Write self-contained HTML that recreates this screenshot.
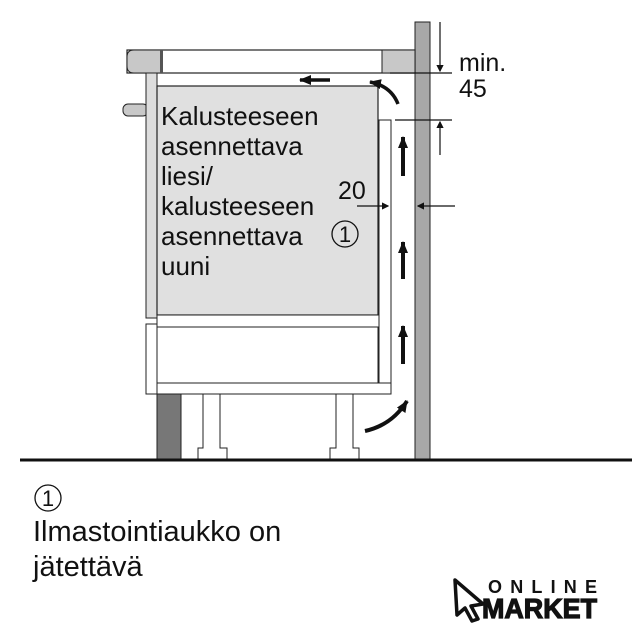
<!DOCTYPE html>
<html><head><meta charset="utf-8"><style>
html,body{margin:0;padding:0;background:#fff;}
svg{display:block}
text{font-family:"Liberation Sans",Arial,sans-serif;fill:#111}
</style></head><body>
<svg width="642" height="640" viewBox="0 0 642 640" xmlns="http://www.w3.org/2000/svg">
<defs>
<marker id="ah" markerWidth="6" markerHeight="6" refX="5" refY="3" orient="auto" markerUnits="strokeWidth"><path d="M0,0 L6,3 L0,6 z" fill="#111"/></marker>
<marker id="th" markerWidth="12" markerHeight="10" refX="11" refY="5" orient="auto" markerUnits="userSpaceOnUse"><path d="M0,0 L12,5 L0,10 z" fill="#111"/></marker>
</defs>
<rect x="415" y="22" width="15" height="438" fill="#a8a8a8" stroke="#222" stroke-width="1"/>
<rect x="127" y="50" width="288" height="23" fill="#fff" stroke="#222" stroke-width="1.2"/>
<path d="M162,50 H134 Q127,50 127,57 V66 Q127,73 134,73 H162 Z" fill="#c8c8c8" stroke="#222" stroke-width="1"/>
<rect x="160" y="50" width="3" height="23" fill="#555"/>
<rect x="382" y="50" width="33" height="23" fill="#c8c8c8" stroke="#222" stroke-width="1"/>
<rect x="123" y="104" width="25" height="12" rx="5" fill="#c8c8c8" stroke="#222"/>
<rect x="146" y="73" width="11" height="245" fill="#ddd" stroke="#222"/>
<rect x="146" y="324" width="11" height="70" fill="#fff" stroke="#222"/>
<rect x="157" y="86" width="221" height="229" fill="#e0e0e0" stroke="#222" stroke-width="1.2"/>
<rect x="157" y="315" width="222" height="12" fill="#fff" stroke="#222"/>
<rect x="157" y="327" width="221" height="56" fill="#fff" stroke="#222"/>
<rect x="379" y="120" width="12" height="263" fill="#fff" stroke="#222"/>
<rect x="157" y="383" width="234" height="11" fill="#fff" stroke="#222"/>
<rect x="157" y="394" width="24" height="66" fill="#777" stroke="#222"/>
<path d="M203,394 V448 H198 V460 H227 V448 H220 V394 Z" fill="#fff" stroke="#222"/>
<path d="M336,394 V448 H330 V460 H359 V448 H353 V394 Z" fill="#fff" stroke="#222"/>
<line x1="20" y1="460" x2="632" y2="460" stroke="#111" stroke-width="3"/>
<line x1="330" y1="80" x2="300" y2="80" stroke="#111" stroke-width="3.5" marker-end="url(#th)"/>
<path d="M398,104 Q391,86 370,82" fill="none" stroke="#111" stroke-width="3.5" marker-end="url(#th)"/>
<line x1="403" y1="176" x2="403" y2="137" stroke="#111" stroke-width="4" marker-end="url(#th)"/>
<line x1="403" y1="279" x2="403" y2="242" stroke="#111" stroke-width="4" marker-end="url(#th)"/>
<line x1="403" y1="364" x2="403" y2="326" stroke="#111" stroke-width="4" marker-end="url(#th)"/>
<path d="M365,431 Q392,425 407,401" fill="none" stroke="#111" stroke-width="4" marker-end="url(#th)"/>
<line x1="390" y1="73" x2="452" y2="73" stroke="#111" stroke-width="1.2"/>
<line x1="440" y1="22" x2="440" y2="71" stroke="#111" stroke-width="1.2" marker-end="url(#ah)"/>
<line x1="395" y1="120" x2="452" y2="120" stroke="#111" stroke-width="1.2"/>
<line x1="440" y1="155" x2="440" y2="122" stroke="#111" stroke-width="1.2" marker-end="url(#ah)"/>
<line x1="357" y1="206" x2="388" y2="206" stroke="#111" stroke-width="1.2" marker-end="url(#ah)"/>
<line x1="455" y1="206" x2="418" y2="206" stroke="#111" stroke-width="1.2" marker-end="url(#ah)"/>
<text x="459" y="71" font-size="25">min.</text>
<text x="459" y="97" font-size="25">45</text>
<text x="338" y="199" font-size="25">20</text>
<g font-size="26">
<text x="161" y="125">Kalusteeseen</text>
<text x="161" y="155">asennettava</text>
<text x="161" y="185">liesi/</text>
<text x="161" y="215">kalusteeseen</text>
<text x="161" y="245">asennettava</text>
<text x="161" y="275">uuni</text>
</g>
<circle cx="345" cy="234" r="13" fill="none" stroke="#111" stroke-width="1.3"/>
<text x="345" y="242" font-size="22" text-anchor="middle">1</text>
<circle cx="48" cy="498" r="13" fill="none" stroke="#111" stroke-width="1.3"/>
<text x="48" y="506" font-size="22" text-anchor="middle">1</text>
<text x="33" y="541" font-size="29">Ilmastointiaukko on</text>
<text x="33" y="576" font-size="29">jätettävä</text>
<path d="M455,580 L483,604 L471,606 L478,619 L472,621 L465,608 L457,615 Z" fill="#fff" stroke="#111" stroke-width="3.5" stroke-linejoin="round"/>
<text x="488" y="593" font-size="18" font-weight="bold" textLength="109" lengthAdjust="spacing">ONLINE</text>
<text x="482" y="618" font-size="28" font-weight="bold" stroke="#111" stroke-width="1.2" textLength="115" lengthAdjust="spacingAndGlyphs">MARKET</text>
</svg>
</body></html>
